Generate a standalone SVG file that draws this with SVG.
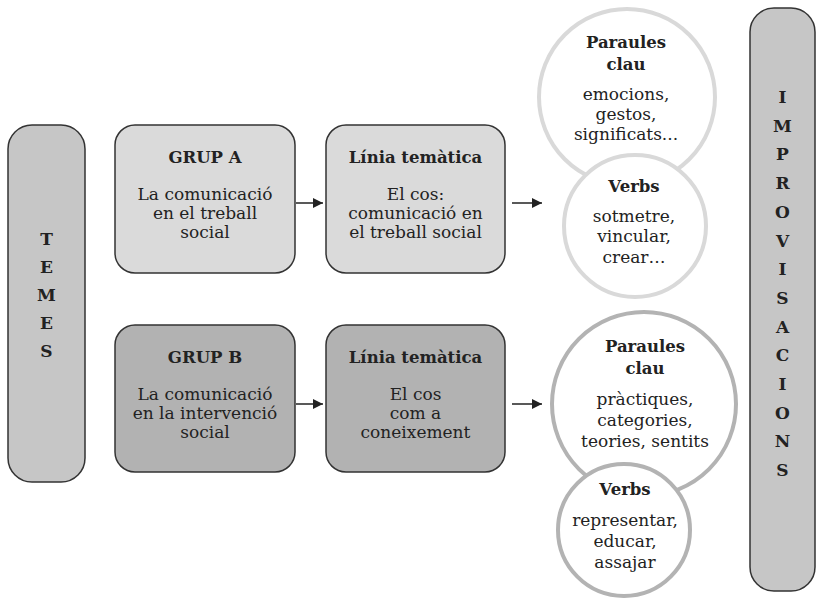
<svg xmlns="http://www.w3.org/2000/svg" width="818" height="600" viewBox="0 0 818 600">
<defs>
<marker id="ah" markerWidth="10" markerHeight="10" refX="10" refY="5" orient="auto" markerUnits="userSpaceOnUse">
<path d="M0,0 L10,5 L0,10 Z" fill="#222"/>
</marker>
<style>
.t{font-family:"DejaVu Serif","Liberation Serif",serif;fill:#222;text-anchor:middle}
.r{font-size:17px}
.b{font-size:16.5px;font-weight:bold}
.v{font-size:17px;font-weight:bold}
.box{stroke:#333;stroke-width:1.5}
.la{fill:#dadada}
.dk{fill:#b2b2b2}
.bar{fill:#c6c6c6}
.c1{fill:#fff;stroke:#d9d9d9;stroke-width:4}
.c2{fill:#fff;stroke:#b3b3b3;stroke-width:4}
.ln{stroke:#222;stroke-width:1.5;fill:none}
</style>
</defs>
<rect width="818" height="600" fill="#fff"/>

<g id="temes">
<rect class="box bar" x="8" y="125" width="77" height="357" rx="24"/>
<text class="t v"><tspan x="46.5" y="245">T</tspan><tspan x="46.5" y="273">E</tspan><tspan x="46.5" y="301">M</tspan><tspan x="46.5" y="329">E</tspan><tspan x="46.5" y="357">S</tspan></text>
</g>

<g id="grupA">
<rect class="box la" x="115" y="125" width="180" height="148" rx="20"/>
<text class="t b" x="205" y="163">GRUP A</text>
<text class="t r"><tspan x="205" y="200">La comunicació</tspan><tspan x="205" y="219">en el treball</tspan><tspan x="205" y="238">social</tspan></text>
</g>

<g id="liniaA">
<rect class="box la" x="326" y="125" width="179" height="148" rx="20"/>
<text class="t b" x="415.5" y="163">Línia temàtica</text>
<text class="t r"><tspan x="415.5" y="200">El cos:</tspan><tspan x="415.5" y="219">comunicació en</tspan><tspan x="415.5" y="238">el treball social</tspan></text>
</g>

<g id="grupB">
<rect class="box dk" x="115" y="325" width="180" height="147" rx="20"/>
<text class="t b" x="205" y="363">GRUP B</text>
<text class="t r"><tspan x="205" y="400">La comunicació</tspan><tspan x="205" y="419">en la intervenció</tspan><tspan x="205" y="438">social</tspan></text>
</g>

<g id="liniaB">
<rect class="box dk" x="326" y="325" width="179" height="147" rx="20"/>
<text class="t b" x="415.5" y="363">Línia temàtica</text>
<text class="t r"><tspan x="415.5" y="400">El cos</tspan><tspan x="415.5" y="419">com a</tspan><tspan x="415.5" y="438">coneixement</tspan></text>
</g>

<g id="paraulesA">
<circle class="c1" cx="627" cy="97" r="88"/>
<text class="t b"><tspan x="626" y="48">Paraules</tspan><tspan x="626" y="70">clau</tspan></text>
<text class="t r"><tspan x="626" y="100">emocions,</tspan><tspan x="626" y="120">gestos,</tspan><tspan x="626" y="140">significats...</tspan></text>
</g>

<g id="verbsA">
<circle class="c1" cx="635" cy="226" r="71"/>
<text class="t b" x="634" y="192">Verbs</text>
<text class="t r"><tspan x="634" y="222">sotmetre,</tspan><tspan x="634" y="242">vincular,</tspan><tspan x="634" y="263">crear…</tspan></text>
</g>

<g id="paraulesB">
<circle class="c2" cx="644" cy="404" r="92"/>
<text class="t b"><tspan x="645" y="352">Paraules</tspan><tspan x="645" y="374">clau</tspan></text>
<text class="t r"><tspan x="645" y="405">pràctiques,</tspan><tspan x="645" y="426">categories,</tspan><tspan x="645" y="447">teories, sentits</tspan></text>
</g>

<g id="verbsB">
<circle class="c2" cx="624" cy="530" r="66"/>
<text class="t b" x="625" y="495">Verbs</text>
<text class="t r"><tspan x="625" y="526">representar,</tspan><tspan x="625" y="547">educar,</tspan><tspan x="625" y="568">assajar</tspan></text>
</g>

<g id="improvisacions">
<rect class="box bar" x="750" y="8" width="65" height="583" rx="24"/>
<text class="t v"><tspan x="782.5" y="103">I</tspan><tspan x="782.5" y="131.7">M</tspan><tspan x="782.5" y="160.4">P</tspan><tspan x="782.5" y="189.1">R</tspan><tspan x="782.5" y="217.8">O</tspan><tspan x="782.5" y="246.5">V</tspan><tspan x="782.5" y="275.2">I</tspan><tspan x="782.5" y="303.9">S</tspan><tspan x="782.5" y="332.6">A</tspan><tspan x="782.5" y="361.3">C</tspan><tspan x="782.5" y="390">I</tspan><tspan x="782.5" y="418.7">O</tspan><tspan x="782.5" y="447.4">N</tspan><tspan x="782.5" y="476.1">S</tspan></text>
</g>

<g id="connectors">
<line class="ln" x1="296" y1="203" x2="323" y2="203" marker-end="url(#ah)"/>
<line class="ln" x1="512" y1="203" x2="542" y2="203" marker-end="url(#ah)"/>
<line class="ln" x1="296" y1="404" x2="323" y2="404" marker-end="url(#ah)"/>
<line class="ln" x1="512" y1="404" x2="542" y2="404" marker-end="url(#ah)"/>
</g>
</svg>
